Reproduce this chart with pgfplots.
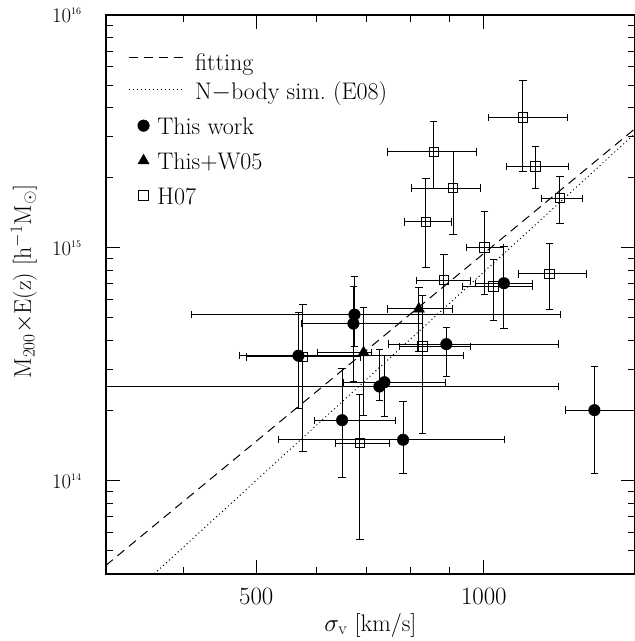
\documentclass[border=0pt]{standalone}
\usepackage{pgfplots}
\pgfplotsset{compat=1.18}
\usepackage{pgfplotstable}
\newcommand{\bigfont}{\fontsize{24}{28}\selectfont}
\newcommand{\midfont}{\fontsize{20}{24}\selectfont}
\pgfplotsset{
  lineleg/.style={legend image code/.code={\draw[##1] (0pt,3pt) -- (54pt,3pt);}},
  markleg/.style={legend image code/.code={\draw[##1] plot coordinates {(15pt,1.5pt)};}},
  errs/.style={error bars/.cd, x dir=both, y dir=both, x explicit, y explicit,
    error bar style={line width=1pt, black}, error mark=none},
  ecap/.style={forget plot, black, only marks, mark=#1, mark size=3.7pt, mark options={line width=1pt}},
}

\begin{document}
% This work (filled circles): x y xlo xhi ylo yhi
\pgfplotstableread{
x y xlo xhi ylo yhi
568.5 3.445e14 474.9 939.8 2.04e14 5.26e14
674.3 5.17e14 409.9 1263.5 3.77e14 7.51e14
672.2 4.73e14 574.4 829.5 2.66e14 6.80e14
892.1 3.86e14 748.2 1257 2.79e14 4.57e14
738.8 2.65e14 651.5 888.8 1.889e14 3.445e14
727.6 2.54e14 250 1254 2.21e14 3.66e14
649.5 1.82e14 596.4 763.3 1.037e14 3.02e14
782.1 1.50e14 534.6 1066 1.079e14 2.20e14
1400.5 2.01e14 1281 1700 1.079e14 3.10e14
1063 7.05e14 975.9 1160 4.51e14 1.013e15
}\circtab
% This+W05 (filled triangles)
\pgfplotstableread{
x y xlo xhi ylo yhi
693.4 3.55e14 603.1 710.8 1.902e14 5.52e14
820.4 5.47e14 746.4 909.9 3.58e14 6.75e14
}\tritab
% H07 (open squares)
\pgfplotstableread{
x y xlo xhi ylo yhi
1126 3.63e15 1014 1292 2.12e15 5.24e15
858.6 2.58e15 745.6 976.8 1.79e15 3.48e15
1170.5 2.236e15 1071.3 1294 1.804e15 2.733e15
910.9 1.804e15 803.1 990.8 1.141e15 2.585e15
1260.6 1.634e15 1192 1349 1.272e15 2.019e15
838.1 1.293e15 785.2 905.2 8.21e14 1.979e15
1001.8 1.003e15 949.5 1061.5 6.30e14 1.428e15
1221.4 7.73e14 1111 1367 5.43e14 1.044e15
885.5 7.26e14 815.4 961.2 5.17e14 9.36e14
1029.7 6.82e14 937.6 1159.8 4.89e14 8.91e14
576.2 3.40e14 485.8 686 1.332e14 5.74e14
829.5 3.77e14 773.9 959.2 1.592e14 6.24e14
685.7 1.452e14 636.5 750.1 5.60e13 2.342e14
}\sqtab

\begin{tikzpicture}
\begin{axis}[
  xmode=log, ymode=log,
  scale only axis, width=529.2pt, height=559pt,
  xmin=316.23, xmax=1584.9, ymin=3.981e13, ymax=1e16,
  clip marker paths=true,
  xtick={500,1000}, xticklabels={$500$,$1000$},
  minor xtick={400,600,700,800,900},
  ytick={1e14,1e15,1e16},
  yticklabels={$10^{\scriptscriptstyle 14}$,$10^{\scriptscriptstyle 15}$,$10^{\scriptscriptstyle 16}$},
  minor ytick={5e13,6e13,7e13,8e13,9e13,2e14,3e14,4e14,5e14,6e14,7e14,8e14,9e14,2e15,3e15,4e15,5e15,6e15,7e15,8e15,9e15},
  tick align=inside, xtick pos=both, ytick pos=both,
  major tick length=14pt, minor tick length=7pt,
  every tick/.style={black, line width=1pt},
  axis line style={line width=1.8pt},
  xticklabel style={font=\bigfont, anchor=north, inner sep=0pt, yshift=-14pt},
  yticklabel style={font=\midfont, anchor=base east, inner sep=0pt, xshift=-24pt, yshift=-7.5pt},
  xlabel={$\sigma_{\rm v}$ [km/s]},
  ylabel={M$_{200}$$\times$E(z) [h$^{-1}$M$_{\odot}$]},
  label style={font=\bigfont},
  xlabel style={at={(axis description cs:0.5,0)}, anchor=north, inner sep=0pt, yshift=-39pt},
  ylabel style={at={(axis description cs:-0.155,0.523)}, anchor=center, inner sep=0pt},
  legend style={draw=none, fill=none, at={(axis description cs:0.042,0.937)}, anchor=north west,
    inner sep=0pt, outer sep=0pt, row sep=9pt, column sep=12pt, font=\bigfont,
    nodes={inner sep=0pt, text height=20pt, text depth=6pt}},
  legend cell align=left,
]
\addplot[black, line width=1pt, dash pattern=on 9pt off 6pt, lineleg]
  coordinates {(316.23,4.33e13) (1584.9,3.25e15)};
\addlegendentry[text depth=0pt]{fitting}
\addplot[black, line width=1pt, dash pattern=on 1pt off 3pt, lineleg]
  coordinates {(360,3.78e13) (1584.9,3.10e15)};
\addlegendentry{N$-$body sim.\ (E08)}

% This work
\addplot[black, only marks, mark=*, mark size=5.8pt, markleg, errs]
  table[x=x, y=y,
    x error plus expr=\thisrow{xhi}-\thisrow{x},
    x error minus expr=\thisrow{x}-\thisrow{xlo},
    y error plus expr=\thisrow{yhi}-\thisrow{y},
    y error minus expr=\thisrow{y}-\thisrow{ylo}] {\circtab};
\addlegendentry{\hspace*{-37.7pt}This work}
\addplot[ecap=-] table[x=x, y=ylo] {\circtab};
\addplot[ecap=-] table[x=x, y=yhi] {\circtab};
\addplot[ecap=|] table[x=xlo, y=y] {\circtab};
\addplot[ecap=|] table[x=xhi, y=y] {\circtab};

% This+W05
\addplot[black, only marks, mark=triangle*, mark size=6.5pt, markleg, errs]
  table[x=x, y=y,
    x error plus expr=\thisrow{xhi}-\thisrow{x},
    x error minus expr=\thisrow{x}-\thisrow{xlo},
    y error plus expr=\thisrow{yhi}-\thisrow{y},
    y error minus expr=\thisrow{y}-\thisrow{ylo}] {\tritab};
\addlegendentry{\hspace*{-37.7pt}This+W05}
\addplot[ecap=-] table[x=x, y=ylo] {\tritab};
\addplot[ecap=-] table[x=x, y=yhi] {\tritab};
\addplot[ecap=|] table[x=xlo, y=y] {\tritab};
\addplot[ecap=|] table[x=xhi, y=y] {\tritab};

% H07
\addplot[black, only marks, mark=square, mark size=4.7pt, mark options={line width=1pt}, markleg, errs]
  table[x=x, y=y,
    x error plus expr=\thisrow{xhi}-\thisrow{x},
    x error minus expr=\thisrow{x}-\thisrow{xlo},
    y error plus expr=\thisrow{yhi}-\thisrow{y},
    y error minus expr=\thisrow{y}-\thisrow{ylo}] {\sqtab};
\addlegendentry{\hspace*{-37.7pt}H07}
\addplot[ecap=-] table[x=x, y=ylo] {\sqtab};
\addplot[ecap=-] table[x=x, y=yhi] {\sqtab};
\addplot[ecap=|] table[x=xlo, y=y] {\sqtab};
\addplot[ecap=|] table[x=xhi, y=y] {\sqtab};
\end{axis}
\pgfresetboundingbox
\path ([xshift=-105.8pt,yshift=-67pt]current axis.south west) rectangle ([xshift=-1pt,yshift=15pt]current axis.north east);
\end{tikzpicture}
\end{document}
